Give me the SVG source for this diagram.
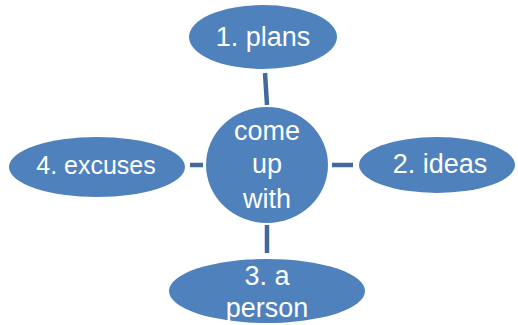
<svg xmlns="http://www.w3.org/2000/svg" width="518" height="325" viewBox="0 0 518 325">
<style>
.n{fill:#4F81BD;}
.t{fill:#FFFFFF;font-family:"Liberation Sans",Arial,sans-serif;font-size:27px;text-anchor:middle;}
.c{stroke:#41699B;stroke-width:4.5;fill:none;}
</style>
<rect width="518" height="325" fill="#FFFFFF"/>
<g id="connectors">
<line class="c" x1="265" y1="73" x2="267" y2="105"/>
<line class="c" x1="332" y1="165" x2="353" y2="165"/>
<line class="c" x1="267" y1="225" x2="267" y2="253"/>
<line class="c" x1="190" y1="165" x2="203" y2="165"/>
</g>
<g id="center">
<ellipse class="n" cx="267" cy="165" rx="61" ry="58"/>
<text class="t" x="267" y="140">come</text>
<text class="t" x="267" y="173">up</text>
<text class="t" x="267" y="208">with</text>
</g>
<g id="n1">
<ellipse class="n" cx="263" cy="37" rx="74" ry="32"/>
<text class="t" x="263" y="46">1. plans</text>
</g>
<g id="n2">
<ellipse class="n" cx="437" cy="165" rx="78" ry="28"/>
<text class="t" x="440" y="173">2. ideas</text>
</g>
<g id="n3">
<ellipse class="n" cx="267" cy="291" rx="98" ry="32"/>
<text class="t" x="267" y="285">3. a</text>
<text class="t" x="267" y="317">person</text>
</g>
<g id="n4">
<ellipse class="n" cx="97" cy="167" rx="88" ry="30"/>
<text class="t" x="96" y="174" style="font-size:25px">4. excuses</text>
</g>
</svg>
